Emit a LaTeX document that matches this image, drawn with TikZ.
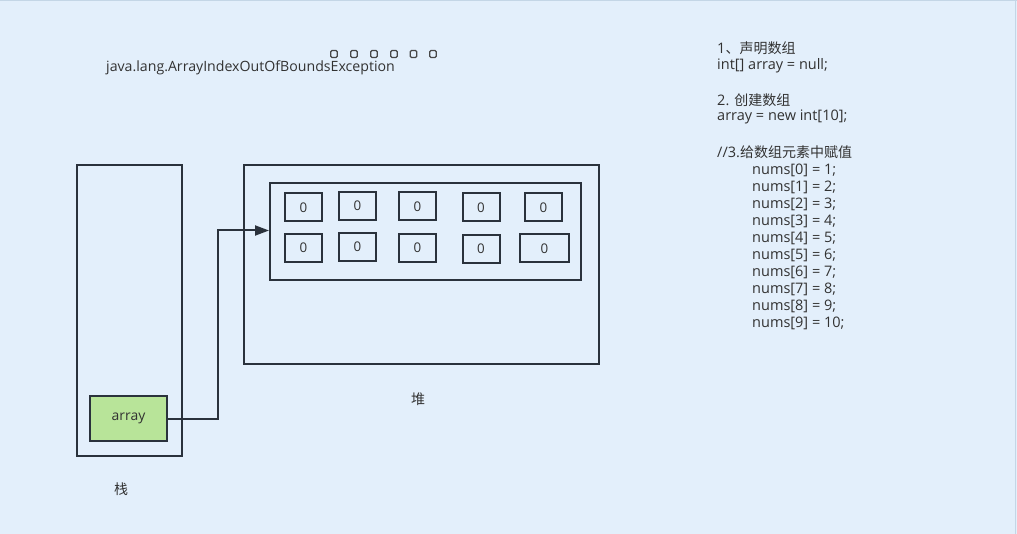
\documentclass[tikz,border=0pt]{standalone}
\usepackage{fontspec}
\setmainfont{Open Sans}[Scale=1.16]
\newfontfamily\cjk{Noto Sans CJK SC}[Scale=1.12]
\usetikzlibrary{arrows.meta}
\definecolor{bg}{RGB}{227,239,251}
\definecolor{ln}{RGB}{42,50,60}
\definecolor{txt}{RGB}{50,50,50}
\definecolor{grn}{RGB}{184,228,153}
\definecolor{edge}{RGB}{196,214,230}
\begin{document}
\begin{tikzpicture}[x=1pt,y=-1pt,
  box/.style={draw=ln,line width=2pt,inner sep=0pt,anchor=north west},
  cell/.style={draw=ln,line width=2pt,minimum width=37pt,minimum height=28pt,inner sep=0pt,text=txt,font=\fontsize{11.5}{14}\selectfont},
  lbl/.style={text=txt,font=\fontsize{12.5}{14}\selectfont,inner sep=0pt,anchor=west},
  tofu/.style={draw=txt!90,line width=1.2pt,rounded corners=1.2pt,minimum width=6.5pt,minimum height=7pt,inner sep=0pt},
  conn/.style={draw=ln,line width=2pt,-{Triangle[length=14pt,width=10pt]}}]
\fill[bg] (0,0) rectangle (1017,534);
\useasboundingbox (0,0) rectangle (1017,534);
\draw[edge,line width=1.5pt] (0,0.75) -- (1017,0.75);
\draw[edge,line width=1.5pt] (1015.5,0) -- (1015.5,534);

% stack
\node[box,minimum width=105pt,minimum height=291pt] (stack) at (76,164) {};
\node[box,fill=grn,minimum width=77pt,minimum height=45pt,anchor=center,text=txt,font=\fontsize{12}{14}\selectfont] (arr) at (128.5,418.5) {array};
\node[text=txt,font=\cjk\fontsize{12.5}{15}\selectfont,inner sep=0pt] (stlbl) at (121,489) {栈};

% heap
\node[box,minimum width=355pt,minimum height=199pt] (heap) at (243,164) {};
\node[box,minimum width=311pt,minimum height=97pt] (inner) at (269,182) {};
\node[text=txt,font=\cjk\fontsize{12.5}{15}\selectfont,inner sep=0pt] (hplbl) at (418,399) {堆};

% cells
\node[cell] (c1) at (303.5,207.5) {0};
\node[cell] (c2) at (357.5,206) {0};
\node[cell] (c3) at (417.5,206.5) {0};
\node[cell] (c4) at (481,207.5) {0};
\node[cell] (c5) at (543.5,207.5) {0};
\node[cell] (c6) at (303.5,248) {0};
\node[cell] (c7) at (357.5,247) {0};
\node[cell] (c8) at (417.5,248) {0};
\node[cell] (c9) at (481,249) {0};
\node[cell,minimum width=49pt] (c10) at (544.5,248.5) {0};

% connector
\coordinate (bend) at (217.5,230.5);
\draw[conn] (arr.east) -- (arr.east -| bend) -- (bend) -- (bend -| inner.west);

% exception text
\node[lbl,font=\fontsize{12.2}{15}\selectfont] (exc) at (106,68) {java.lang.ArrayIndexOutOfBoundsException};
\node[tofu] (t1) at (334,54) {};
\node[tofu] (t2) at (354,54) {};
\node[tofu] (t3) at (374,54) {};
\node[tofu] (t4) at (394,54) {};
\node[tofu] (t5) at (413.5,54) {};
\node[tofu] (t6) at (433,54) {};

% code text
\node[lbl] (l1) at (717,48) {1{\cjk 、声明数组}};
\node[lbl] (l2) at (717,66) {int[] array = null;};
\node[lbl] (l3) at (717,100) {2. {\cjk 创建数组}};
\node[lbl] (l4) at (717,117) {array = new int[10];};
\node[lbl] (l5) at (717,152) {//3.{\cjk 给数组元素中赋值}};
\node[lbl] (n0) at (752,170) {nums[0] = 1;};
\node[lbl] (n1) at (752,187) {nums[1] = 2;};
\node[lbl] (n2) at (752,204) {nums[2] = 3;};
\node[lbl] (n3) at (752,221) {nums[3] = 4;};
\node[lbl] (n4) at (752,238) {nums[4] = 5;};
\node[lbl] (n5) at (752,255) {nums[5] = 6;};
\node[lbl] (n6) at (752,272) {nums[6] = 7;};
\node[lbl] (n7) at (752,289) {nums[7] = 8;};
\node[lbl] (n8) at (752,306) {nums[8] = 9;};
\node[lbl] (n9) at (752,323) {nums[9] = 10;};
\end{tikzpicture}
\end{document}
